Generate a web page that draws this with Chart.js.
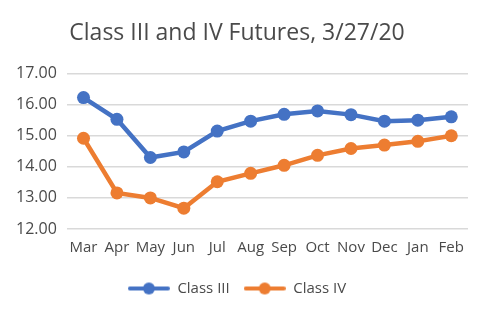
<!DOCTYPE html>
<html><head><meta charset="utf-8">
<script src="https://cdn.jsdelivr.net/npm/chart.js@4/dist/chart.umd.min.js"></script>
<style>html,body{margin:0;padding:0;background:#fff}#wrap{width:486px;height:316px}</style>
</head><body><div id="wrap"><canvas id="c" width="486" height="316"></canvas></div>
<script>
const months = ["Mar","Apr","May","Jun","Jul","Aug","Sep","Oct","Nov","Dec","Jan","Feb"];
const classIII = [16.23,15.53,14.30,14.48,15.15,15.47,15.69,15.80,15.68,15.47,15.50,15.61];
const classIV = [14.92,13.16,13.00,12.67,13.52,13.79,14.05,14.37,14.59,14.70,14.82,15.00];
const yTicks = [12,13,14,15,16,17];
const titleText = "Class III and IV Futures, 3/27/20";
const FONT = "'Open Sans', sans-serif";
const TXT = "#4a4a4a";

function legendIcon(color){
  const cv = document.createElement('canvas');
  cv.width = 42; cv.height = 14;
  const g = cv.getContext('2d');
  g.strokeStyle = color; g.lineWidth = 4; g.lineCap = 'round';
  g.beginPath(); g.moveTo(2,7); g.lineTo(40,7); g.stroke();
  g.fillStyle = color; g.beginPath(); g.arc(21,7,6,0,Math.PI*2); g.fill();
  return cv;
}
const colors = ["#4472C4","#ED7D31"];
const icons = colors.map(legendIcon);

new Chart(document.getElementById('c'), {
  type: 'line',
  data: {
    labels: months,
    datasets: [
      {label: "Class III", data: classIII, borderColor: colors[0], backgroundColor: colors[0], borderWidth: 4.5, pointRadius: 6.5, pointHoverRadius: 6.5, pointBorderWidth: 0},
      {label: "Class IV", data: classIV, borderColor: colors[1], backgroundColor: colors[1], borderWidth: 4.5, pointRadius: 6.5, pointHoverRadius: 6.5, pointBorderWidth: 0}
    ]
  },
  options: {
    responsive: false, animation: false,
    layout: {padding: {left: 6, right: 18, top: 0, bottom: 10}},
    plugins: {
      title: {display: true, text: titleText, color: TXT, font: {family: FONT, size: 23, weight: 'normal'}, padding: {top: 20, bottom: 26}},
      legend: {position: 'bottom', labels: {
        usePointStyle: true, pointStyleWidth: 42, boxHeight: 14, color: TXT, padding: 14,
        font: {family: FONT, size: 15},
        generateLabels: (chart) => chart.data.datasets.map((d,i) => ({text: d.label, pointStyle: icons[i], fillStyle: colors[i], strokeStyle: colors[i], lineWidth: 0, fontColor: TXT, datasetIndex: i, hidden: false}))
      }},
      tooltip: {enabled: false}
    },
    scales: {
      x: {offset: true, grid: {display: false, drawTicks: false}, border: {display: false},
          ticks: {color: TXT, font: {family: FONT, size: 15}, padding: 10, maxRotation: 0, autoSkip: false}},
      y: {min: 12, max: 17, afterBuildTicks: (s) => { s.ticks = yTicks.map(v => ({value: v})); },
          grid: {color: "#D9D9D9", lineWidth: 1.5, drawTicks: false}, border: {display: false},
          ticks: {color: TXT, font: {family: FONT, size: 16}, padding: 10, callback: v => Number(v).toFixed(2)}}
    }
  }
});
</script></body></html>
